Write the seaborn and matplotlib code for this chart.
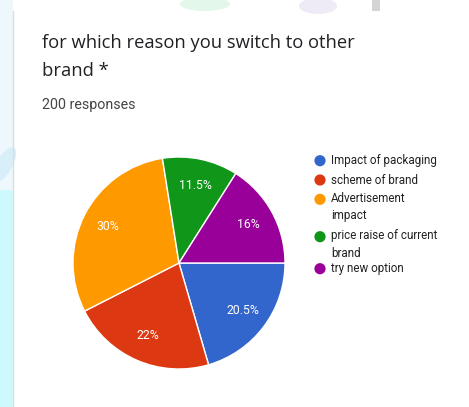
import matplotlib
matplotlib.use("Agg")
import matplotlib.pyplot as plt
from matplotlib.patches import Rectangle, Circle, Ellipse
import seaborn as sns

# Survey results
categories = ["Impact of packaging", "scheme of brand", "Advertisement\nimpact",
              "price raise of current\nbrand", "try new option"]
shares = [20.5, 22, 30, 11.5, 16]
pct_labels = ["20.5%", "22%", "30%", "11.5%", "16%"]
colors = ["#3366cc", "#dc3912", "#ff9900", "#109618", "#990099"]

title_lines = ["for which reason you switch to other", "brand *"]
subtitle = "200 responses"

sns.set_style("white")
plt.rcParams["font.family"] = ["Roboto", "DejaVu Sans"]
palette = sns.color_palette(colors)

W, H = 469, 407
fig = plt.figure(figsize=(W / 100, H / 100), dpi=100)
fig.patch.set_facecolor("white")

# page background behind the card
bg = fig.add_axes([0, 0, 1, 1])
bg.set_xlim(0, W)
bg.set_ylim(H, 0)
bg.axis("off")
bg.add_patch(Rectangle((0, 190), 12.5, H - 190, color="#cdf9fd", lw=0))
bg.add_patch(Rectangle((0, 0), 12.5, 190, color="#eef8fc", lw=0))
bg.add_patch(Ellipse((4, 165), 16, 40, angle=30, color="#d8eef8", lw=0))
bg.add_patch(Ellipse((205, 4), 50, 14, color="#e3f7ea", lw=0))
bg.add_patch(Ellipse((318, 6), 38, 16, color="#eeeaf6", lw=0))
bg.add_patch(Rectangle((372, 0), 8, 11, color="#d4d4d4", lw=0))
bg.plot([12.5, 12.5], [11, H], color="#dadce0", lw=1)

def fy(y):
    return 1 - y / H

fig.text(42 / W, fy(47.5), title_lines[0], fontsize=13.2, color="#202124",
         family=["Open Sans", "DejaVu Sans"], va="baseline")
fig.text(42 / W, fy(76), title_lines[1], fontsize=13.2, color="#202124",
         family=["Open Sans", "DejaVu Sans"], va="baseline")
fig.text(42 / W, fy(108.5), subtitle, fontsize=10.3, color="#444444", va="baseline")

# pie
cx, cy, r = 179, 263, 106
ax = fig.add_axes([(cx - r) / W, (H - cy - r) / H, 2 * r / W, 2 * r / H])
wedges, texts, autotexts = ax.pie(
    shares, colors=palette, startangle=0, counterclock=False,
    autopct=lambda p: "", pctdistance=0.75,
    wedgeprops=dict(edgecolor="white", linewidth=1))
for at, lab in zip(autotexts, pct_labels):
    at.set_text(lab)
    at.set_color("white")
    at.set_fontsize(8.8)
ax.set_xlim(-1, 1)
ax.set_ylim(-1, 1)
ax.set_aspect("equal")
ax.axis("off")

# legend
legend_y = [160.7, 180, 199.3, 236.7, 268.7]
for lab, col, y in zip(categories, palette, legend_y):
    bg.add_patch(Circle((320, y), 5.6, color=col, lw=0))
    if "\n" in lab:
        # first line sits level with the marker
        bg.text(331, y - 7.5, lab, fontsize=8.4, color="#222222", va="top",
                linespacing=1.45)
    else:
        bg.text(331, y, lab, fontsize=8.4, color="#222222", va="center")

fig.savefig("out.png", dpi=100, facecolor="white")
